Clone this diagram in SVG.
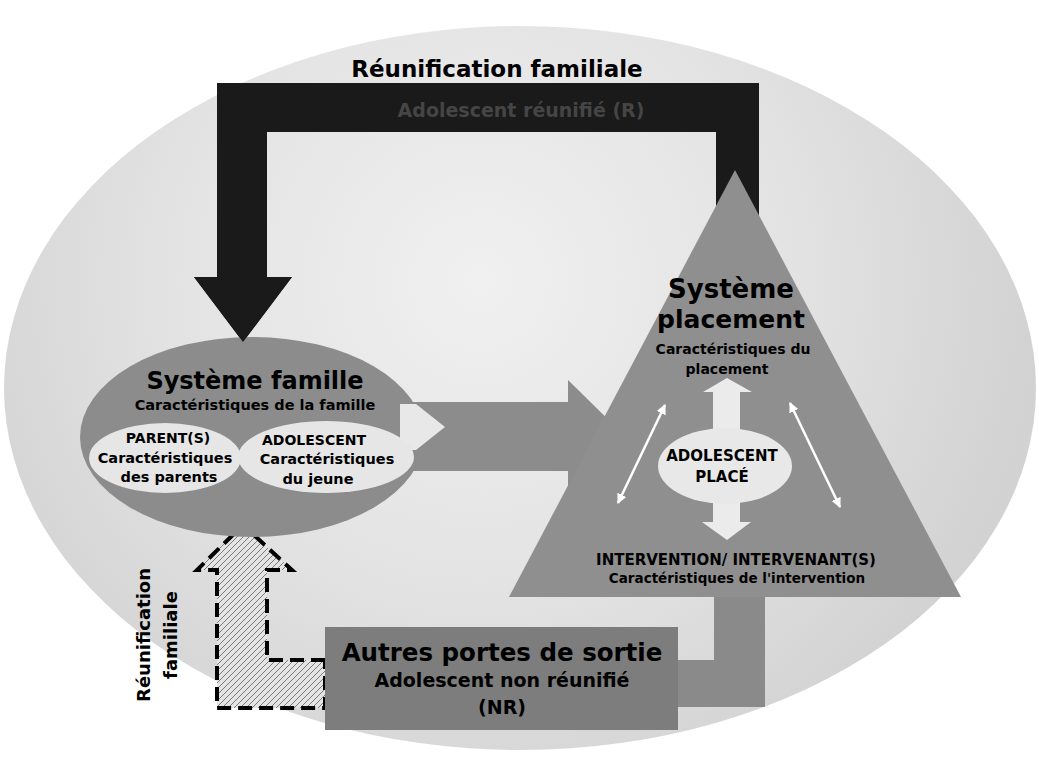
<svg xmlns="http://www.w3.org/2000/svg" width="1039" height="768" viewBox="0 0 1039 768">
<style>
text{font-family:"DejaVu Sans","Liberation Sans",sans-serif;font-weight:bold;fill:#000;text-anchor:middle}
.mid{fill:#8c8c8c}
.light{fill:#e6e6e6}
.thin{stroke:#fff;stroke-width:2.5;fill:none;marker-start:url(#wh);marker-end:url(#wh)}
.dash{stroke:#000;stroke-width:4;stroke-dasharray:14 7;fill:url(#hatch)}
</style>
<defs>
<radialGradient id="bg" gradientUnits="userSpaceOnUse" cx="480" cy="280" r="560">
<stop offset="0" stop-color="#f0f0f0"/>
<stop offset="0.55" stop-color="#e3e3e3"/>
<stop offset="1" stop-color="#d2d2d2"/>
</radialGradient>
<pattern id="hatch" width="6" height="6" patternUnits="userSpaceOnUse">
<rect width="6" height="6" fill="#e4e4e4"/>
<path d="M-1 7 L7 -1 M-1 1 L1 -1 M5 7 L7 5" stroke="#7a7a7a" stroke-width="1"/>
</pattern>
<marker id="wh" viewBox="0 0 10 10" refX="9" refY="5" markerWidth="4" markerHeight="4" orient="auto-start-reverse">
<path d="M0 0 L10 5 L0 10 Z" fill="#fff"/>
</marker>
</defs>

<g id="background">
<ellipse cx="520" cy="388" rx="516" ry="362" fill="url(#bg)"/>
</g>

<g id="connectors">
<path id="reunification-r" d="M217 83 L759 83 L759 230 L716 230 L716 132 L267 132 L267 277 L292 277 L243 342 L194 277 L217 277 Z" fill="#1a1a1a"/>
<path id="famille-placement" class="mid" d="M405 402 L568 402 L568 380 L626 437 L568 494 L568 471 L405 471 Z"/>
<path id="placement-autres" fill="#8a8a8a" d="M714 585 L765 585 L765 707 L676 707 L676 660 L714 660 Z"/>
<path id="reunification-nr" class="dash" d="M325 660 L267 660 L267 570 L292 570 L243 525 L197 570 L217 570 L217 708 L325 708 Z"/>
</g>

<g id="placement">
<polygon points="735,170 961,597 509,597" fill="#8f8f8f"/>
<text x="731" y="298" font-size="26">Système</text>
<text x="731" y="328" font-size="25">placement</text>
<text x="733" y="354" font-size="14">Caractéristiques du</text>
<text x="727" y="374" font-size="14">placement</text>
<text x="736" y="565" font-size="15">INTERVENTION/ INTERVENANT(S)</text>
<text x="737" y="583" font-size="13.5">Caractéristiques de l'intervention</text>
</g>

<g id="placement-links">
<path d="M713 392 L703 392 L727 378 L752 392 L740 392 L740 522 L751 522 L727 540 L702 522 L713 522 Z" fill="#ebebeb"/>
<line class="thin" x1="618" y1="503" x2="665" y2="405"/>
<line class="thin" x1="790" y1="403" x2="840" y2="507"/>
</g>

<g id="adolescent-place">
<ellipse cx="725" cy="466" rx="67" ry="38" fill="#e8e8e8"/>
<text x="722" y="461" font-size="15">ADOLESCENT</text>
<text x="722" y="482" font-size="15">PLACÉ</text>
</g>

<g id="famille">
<ellipse cx="252" cy="437" rx="172" ry="100" fill="#8c8c8c"/>
<path d="M400 404 L416 404 L445 427 L416 450 L400 450 Z" fill="#e8e8e8"/>
<ellipse cx="165" cy="458" rx="76" ry="35" fill="#e6e6e6"/>
<ellipse cx="326" cy="457" rx="88" ry="36" fill="#e6e6e6"/>
<text x="255" y="389" font-size="24">Système famille</text>
<text x="255" y="410" font-size="14.5">Caractéristiques de la famille</text>
<text x="168" y="443" font-size="14">PARENT(S)</text>
<text x="165" y="463" font-size="14.5">Caractéristiques</text>
<text x="169" y="482" font-size="14.5">des parents</text>
<text x="314" y="445" font-size="14">ADOLESCENT</text>
<text x="327" y="464" font-size="14.5">Caractéristiques</text>
<text x="318" y="484" font-size="14.5">du jeune</text>
</g>
<path d="M217 277 L292 277 L243 342 L194 277 Z" fill="#1a1a1a"/>

<g id="autres-portes">
<rect x="325" y="627" width="353" height="103" fill="#7d7d7d"/>
<text x="502" y="661" font-size="24.5">Autres portes de sortie</text>
<text x="502" y="687" font-size="19">Adolescent non réunifié</text>
<text x="502" y="714" font-size="19">(NR)</text>
</g>

<g id="labels">
<text x="497" y="77" font-size="23">Réunification familiale</text>
<text x="521" y="117" font-size="19" style="fill:#454545">Adolescent réunifié (R)</text>
<text transform="translate(150,635) rotate(-90)" font-size="18">Réunification</text>
<text transform="translate(177,635) rotate(-90)" font-size="18">familiale</text>
</g>
</svg>
